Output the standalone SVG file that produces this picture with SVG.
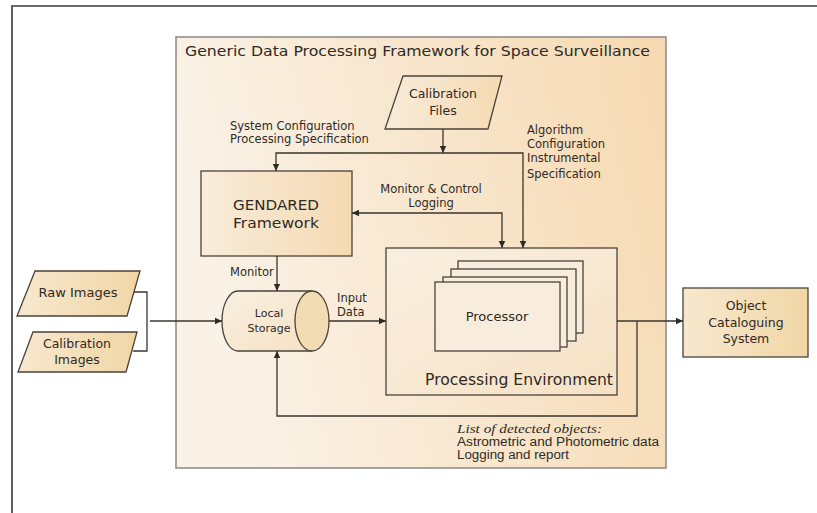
<svg xmlns="http://www.w3.org/2000/svg" width="817" height="513" viewBox="0 0 817 513">
<style>
.ln{fill:none;stroke:#3a352f;stroke-width:1.3}
.bx{stroke:#4a433b;stroke-width:1.3}
.t{font-family:"DejaVu Sans",Verdana,sans-serif;fill:#2e2a26}
.s{font-size:11.5px}
.m{font-size:12.5px}
.l{font-size:15.5px}
.c{text-anchor:middle}
</style>
<defs>
<linearGradient id="gMain" x1="0" y1="0.2" x2="1" y2="0">
<stop offset="0" stop-color="#faf2e7"/>
<stop offset="1" stop-color="#f6d9b0"/>
</linearGradient>
<linearGradient id="gBox" x1="0" y1="0" x2="1" y2="0">
<stop offset="0" stop-color="#f8ecda"/>
<stop offset="1" stop-color="#f5dab2"/>
</linearGradient>
<linearGradient id="gIn" x1="0" y1="0" x2="1" y2="0">
<stop offset="0" stop-color="#f7e8ce"/>
<stop offset="1" stop-color="#f1d6a6"/>
</linearGradient>
<linearGradient id="gProc" x1="0" y1="0" x2="1" y2="1">
<stop offset="0" stop-color="#f9efe1"/>
<stop offset="1" stop-color="#f6e2c4"/>
</linearGradient>
<marker id="ah" markerWidth="8" markerHeight="8" refX="7" refY="4" orient="auto-start-reverse" markerUnits="userSpaceOnUse">
<path d="M0,0.8 L7,4 L0,7.2 Z" fill="#2e2a26"/>
</marker>
</defs>
<rect width="817" height="513" fill="#ffffff"/>
<g id="frame">
<path d="M12,513 V6 H817" fill="none" stroke="#3a3a3a" stroke-width="1.6"/>
</g>
<g id="framework">
<rect x="176" y="37" width="490" height="431" fill="url(#gMain)" stroke="#8c8782" stroke-width="1.5"/>
<text class="t" x="185" y="56" font-size="14px" textLength="465" lengthAdjust="spacingAndGlyphs">Generic Data Processing Framework for Space Surveillance</text>
</g>
<g id="calibration-files">
<polygon class="bx" points="403,76 502,76 488,129 385,129" fill="url(#gBox)"/>
<text class="t m c" x="443" y="98">Calibration</text>
<text class="t m c" x="443" y="115">Files</text>
</g>
<g id="gendared">
<rect class="bx" x="201" y="171" width="151" height="85" fill="url(#gBox)"/>
<text class="t c" x="276" y="210" font-size="14.5px" textLength="86" lengthAdjust="spacingAndGlyphs">GENDARED</text>
<text class="t c" x="276" y="228" font-size="14.5px" textLength="86" lengthAdjust="spacingAndGlyphs">Framework</text>
</g>
<g id="processing-environment">
<rect class="bx" x="386" y="248" width="231" height="147" fill="url(#gProc)"/>
<text class="t l" x="425" y="385" textLength="188" lengthAdjust="spacingAndGlyphs">Processing Environment</text>
</g>
<g id="processor">
<rect class="bx" x="458" y="261" width="125" height="72" fill="#f8eddc"/>
<rect class="bx" x="451" y="269" width="125" height="72" fill="#f8eddc"/>
<rect class="bx" x="443" y="277" width="124" height="70" fill="#f8eddc"/>
<rect class="bx" x="435" y="282" width="125" height="69" fill="#f8eddc"/>
<text class="t c" x="497" y="321" font-size="13px">Processor</text>
</g>
<g id="local-storage">
<path class="bx" d="M312,291 H238 A16,30 0 0 0 238,351 H312" fill="url(#gProc)"/>
<ellipse class="bx" cx="312" cy="321" rx="17" ry="30" fill="#f2dcb4"/>
<text class="t c" x="269" y="317" font-size="11px">Local</text>
<text class="t c" x="269" y="332" font-size="11px">Storage</text>
</g>
<g id="raw-images">
<polygon class="bx" points="35,271 140,271 127,316 17,316" fill="url(#gIn)"/>
<text class="t c" x="78" y="297" font-size="13px">Raw Images</text>
</g>
<g id="calibration-images">
<polygon class="bx" points="33,332 137,332 126,372 18,372" fill="url(#gIn)"/>
<text class="t m c" x="77" y="348">Calibration</text>
<text class="t m c" x="77" y="364">Images</text>
</g>
<g id="object-cataloguing">
<rect class="bx" x="683" y="288" width="125" height="69" fill="url(#gIn)"/>
<text class="t m c" x="746" y="310">Object</text>
<text class="t m c" x="746" y="327">Cataloguing</text>
<text class="t m c" x="746" y="343">System</text>
</g>
<g id="connectors">
<path class="ln" d="M443,129 V153" marker-end="url(#ah)"/>
<path class="ln" d="M523,248 V153 H276 V171" marker-start="url(#ah)" marker-end="url(#ah)"/>
<path class="ln" d="M352,213 H502 V248" marker-start="url(#ah)" marker-end="url(#ah)"/>
<path class="ln" d="M277,256 V291" marker-end="url(#ah)"/>
<path class="ln" d="M134,292 H147 V351 H133"/>
<path class="ln" d="M150,321 H222" marker-end="url(#ah)"/>
<path class="ln" d="M329,321 H386" marker-end="url(#ah)"/>
<path class="ln" d="M617,321 H683" marker-end="url(#ah)"/>
<path class="ln" d="M637,321 V416 H277 V351" marker-end="url(#ah)"/>
</g>
<g id="labels">
<text class="t s" x="230" y="130">System Configuration</text>
<text class="t s" x="230" y="143">Processing Specification</text>
<text class="t s" x="527" y="134">Algorithm</text>
<text class="t s" x="527" y="148">Configuration</text>
<text class="t s" x="527" y="162">Instrumental</text>
<text class="t s" x="527" y="178">Specification</text>
<text class="t s c" x="431" y="193">Monitor &amp; Control</text>
<text class="t s c" x="431" y="207">Logging</text>
<text class="t s" x="230" y="276">Monitor</text>
<text class="t s" x="337" y="302">Input</text>
<text class="t s" x="337" y="316">Data</text>
<text x="457" y="433" font-family="'Liberation Serif',serif" font-style="italic" font-size="13px" fill="#2e2a26" textLength="145" lengthAdjust="spacingAndGlyphs">List of detected objects:</text>
<text x="457" y="446" font-family="'Liberation Sans Narrow','Liberation Sans',sans-serif" font-size="12.5px" fill="#2e2a26" textLength="202" lengthAdjust="spacingAndGlyphs">Astrometric and Photometric data</text>
<text x="457" y="459" font-family="'Liberation Sans Narrow','Liberation Sans',sans-serif" font-size="12.5px" fill="#2e2a26" textLength="112" lengthAdjust="spacingAndGlyphs">Logging and report</text>
</g>
</svg>
